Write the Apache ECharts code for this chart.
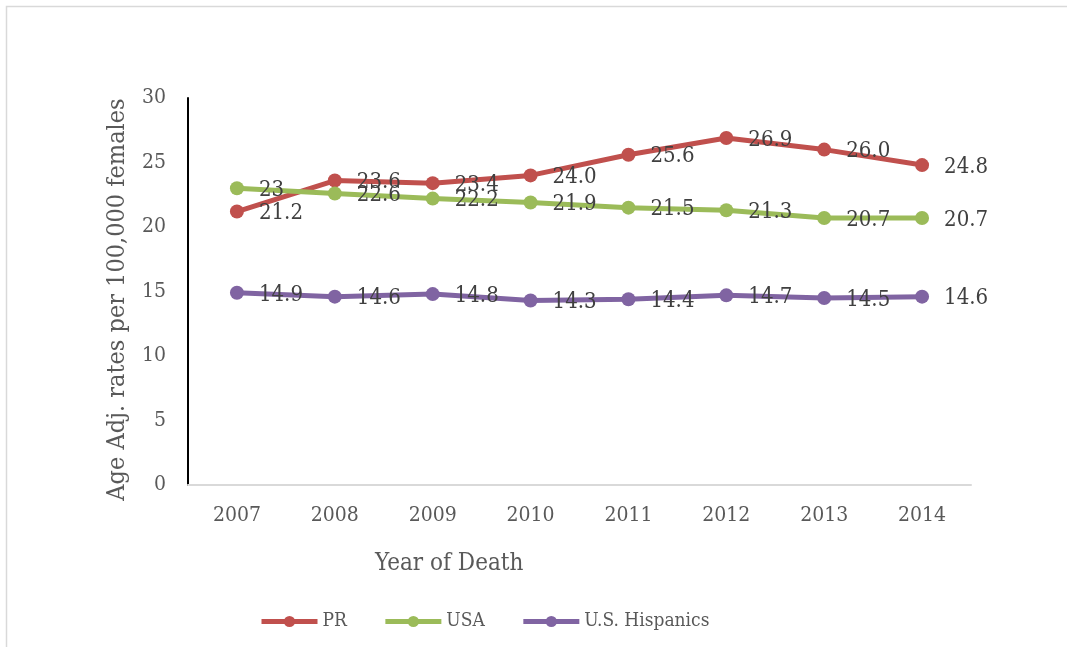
<!DOCTYPE html>
<html>
<head>
<meta charset="utf-8">
<script src="https://cdn.jsdelivr.net/npm/echarts@6/dist/echarts.min.js"></script>
<style>
html,body{margin:0;padding:0;background:#fff;overflow:hidden;}
#chart{width:1067px;height:647px;}
</style>
</head>
<body>
<div id="chart"></div>
<script>
const years = ['2007','2008','2009','2010','2011','2012','2013','2014'];
const pr = [21.2, 23.6, 23.4, 24.0, 25.6, 26.9, 26.0, 24.8];
const usa = [23, 22.6, 22.2, 21.9, 21.5, 21.3, 20.7, 20.7];
const hispanics = [14.9, 14.6, 14.8, 14.3, 14.4, 14.7, 14.5, 14.6];
const seriesNames = ['PR', 'USA', 'U.S. Hispanics'];
const colors = ['#c0504d', '#9bbb59', '#8064a2'];

const FONT = '"DejaVu Serif Condensed", "DejaVu Serif", serif';

function mkSeries(name, data, color, decimals) {
  return {
    name: name,
    type: 'line',
    data: data,
    symbol: 'circle',
    symbolSize: 14,
    color: color,
    lineStyle: { width: 5, color: color },
    itemStyle: { color: color },
    label: {
      show: true,
      position: 'right',
      distance: 15,
      offset: [0, 2],
      fontFamily: FONT,
      fontSize: 22,
      color: '#404040',
      formatter: function (p) { return decimals ? p.value.toFixed(1) : String(p.value); }
    },
    emphasis: { disabled: true },
    z: 3
  };
}

const chart = echarts.init(document.getElementById('chart'), null, { renderer: 'canvas' });
chart.setOption({
  animation: false,
  backgroundColor: '#fff',
  textStyle: { fontFamily: FONT },
  graphic: [{
    type: 'rect',
    shape: { x: 6.5, y: 6.5, width: 1100, height: 700 },
    style: { fill: 'none', stroke: '#d9d9d9', lineWidth: 1.5 },
    silent: true
  }],
  title: {
    text: 'Year of Death',
    left: 370,
    top: 547,
    textStyle: { fontFamily: FONT, fontSize: 24, fontWeight: 'normal', color: '#595959' }
  },
  legend: {
    data: seriesNames,
    left: 254,
    top: 607,
    itemWidth: 56,
    itemHeight: 14,
    itemGap: 36,
    lineStyle: { width: 5 },
    textStyle: { fontFamily: FONT, fontSize: 19, color: '#595959' }
  },
  grid: { left: 188, right: 96, top: 98, bottom: 162, containLabel: false },
  xAxis: {
    type: 'category',
    data: years,
    boundaryGap: true,
    axisLine: { show: true, lineStyle: { color: '#d9d9d9', width: 2 } },
    axisTick: { show: false },
    axisLabel: { fontFamily: FONT, fontSize: 21, color: '#595959', margin: 20 },
    splitLine: { show: false }
  },
  yAxis: {
    type: 'value',
    min: 0,
    max: 30,
    interval: 5,
    name: 'Age Adj. rates per 100,000 females',
    nameLocation: 'middle',
    nameGap: 58,
    nameTextStyle: { fontFamily: FONT, fontSize: 25, color: '#595959', padding: [0, 16, 0, 0] },
    axisLine: { show: true, lineStyle: { color: '#000', width: 2 } },
    axisTick: { show: false },
    axisLabel: { fontFamily: FONT, fontSize: 21, color: '#595959', margin: 22 },
    splitLine: { show: false }
  },
  series: [
    mkSeries(seriesNames[0], pr, colors[0], true),
    mkSeries(seriesNames[1], usa, colors[1], false),
    mkSeries(seriesNames[2], hispanics, colors[2], true)
  ]
});
</script>
</body>
</html>
